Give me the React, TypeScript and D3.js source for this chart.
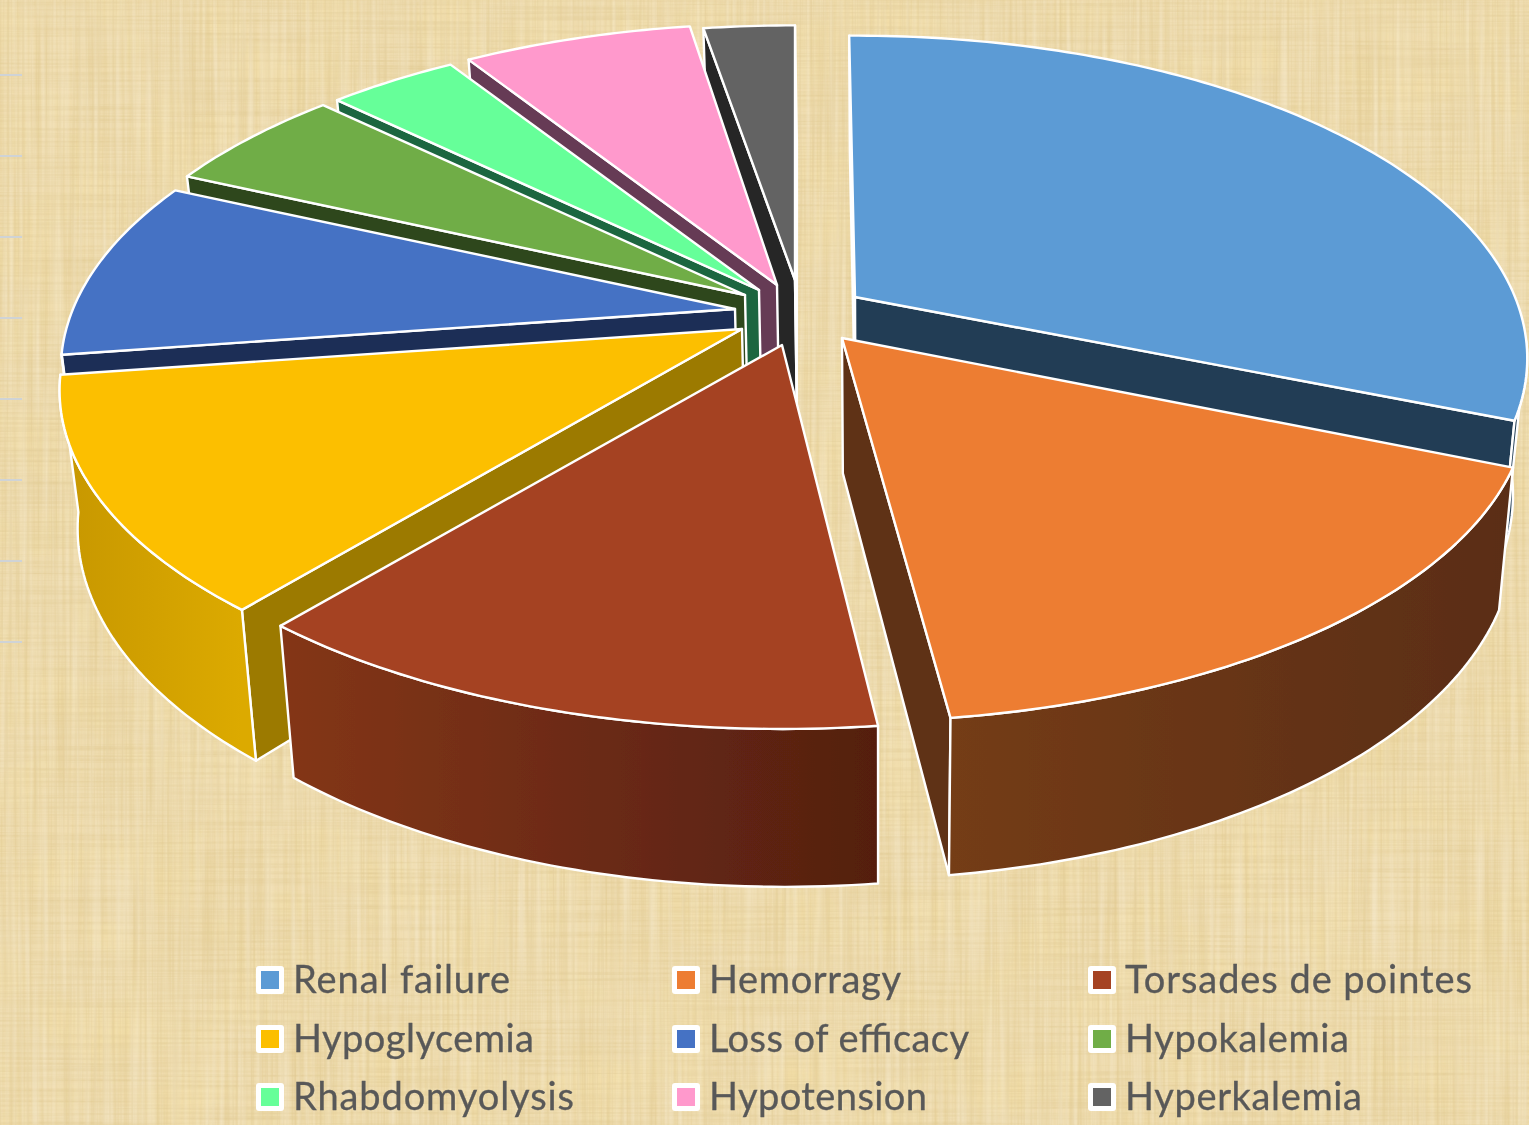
import React from "react";
import * as d3 from "d3";

const categories = ["Renal failure","Hemorragy","Torsades de pointes","Hypoglycemia","Loss of efficacy","Hypokalemia","Rhabdomyolysis","Hypotension","Hyperkalemia"];
const values = [31.28, 16.94, 12.94, 11.72, 9.03, 5.39, 3.75, 6.61, 2.34];
const topColors = ["#5b9bd5","#ed7d31","#a54324","#fcbf00","#4472c4","#70ad47","#66ff99","#ff99cc","#636363"];
const sideColors = ["#233e55","#5f3014","#6e2a16","#9c7a00","#1b2e57","#2d461c","#1f6640","#663a54","#262626"];
const wallFrom = ["#233e55","#743c16","#843618","#c79700","#1b2e57","#2d461c","#1f6640","#663a54","#262626"];
const wallTo = ["#233e55","#5a2d12","#541f10","#dcaa00","#1b2e57","#2d461c","#1f6640","#663a54","#262626"];
const explodeX = [60, 47, -13, -53, -60, -50, -36, -18, 0];
const explodeY = [-23, 18, 25, 9, -11, -25, -30, -35, -40];
const radiusX = [660, 674, 672, 670, 662, 660, 660, 660, 672];
const radiusY = [311, 311, 311, 311, 311, 311, 311, 311, 303];
const startNudgeDeg = [0, 0.7, 0.35, 0, 0, 0, 0, 0, -0.3];
const endNudgeDeg = [-0.3, -0.5, 0, 0, 0, 0, 0, 0, 0.6];
const labelWidths = [217, 192, 347, 241, 260, 224, 281, 218, 237];
const paintOrder = [8, 7, 6, 5, 4, 3, 0, 2, 1];
const legendRows = 3;
const legendCols = 3;

const W = 1529, H = 1125;
const CX = 795, CY = 320, K = 0.19;
const DEG = Math.PI / 180;
const WALL_MIN = 98 * DEG, WALL_MAX = 262 * DEG;
type P = [number, number];

const drop = ([x, y]: P): P => [880 + (x - 880) * 0.978, y + 133 + 0.058 * (y - 300)];
const line = d3.line<P>().x(d => d[0]).y(d => d[1]);
const closed = (pts: P[]) => line(pts) + "Z";

const slices = d3.pie<number>().sort(null).startAngle(-0.6 * DEG).endAngle(359.4 * DEG)(values);
const colX = d3.scaleOrdinal<number, number>().domain([0, 1, 2]).range([256, 672, 1088]);
const rowY = d3.scaleOrdinal<number, number>().domain([0, 1, 2]).range([966, 1025, 1083]);

export default function App() {
  const geo = slices.map((s, i) => {
    const ax = CX + explodeX[i];
    const ay = CY + explodeY[i];
    const apex: P = [ax, ay];
    const a0 = s.startAngle + startNudgeDeg[i] * DEG;
    const a1 = s.endAngle + endNudgeDeg[i] * DEG;
    const project = (a: number): P => {
      const u = Math.sin(a), v = -Math.cos(a), w = 1 - K * v;
      return [ax + (radiusX[i] * u) / w, ay + (radiusY[i] * v) / w];
    };
    const sample = (b0: number, b1: number): P[] => {
      const n = Math.max(4, Math.ceil((b1 - b0) * 60));
      return d3.range(n + 1).map(k => project(b0 + ((b1 - b0) * k) / n));
    };
    const arc = sample(a0, a1);
    const w0 = Math.max(a0, WALL_MIN), w1 = Math.min(a1, WALL_MAX);
    const wallArc = w0 < w1 ? sample(w0, w1) : [];
    const startVisible = -Math.sin(a0) > 0;
    const endVisible = Math.sin(a1) > 0;
    return { apex, arc, wallArc, i, startVisible, endVisible };
  });
  return (
    <svg width={W} height={H} viewBox={`0 0 ${W} ${H}`} style={{ position: "absolute", left: 0, top: 0, display: "block" }}>
      <defs>
        <filter id="fibV" x="0" y="0" width="100%" height="100%">
          <feTurbulence type="fractalNoise" baseFrequency="0.4 0.006" numOctaves={2} seed={4} />
          <feColorMatrix type="matrix" values="0 0 0 0 0.76  0 0 0 0 0.60  0 0 0 0 0.30  1.5 0 0 0 -0.55" />
          <feGaussianBlur stdDeviation="0.6" />
        </filter>
        <filter id="fibH" x="0" y="0" width="100%" height="100%">
          <feTurbulence type="fractalNoise" baseFrequency="0.006 0.4" numOctaves={2} seed={9} />
          <feColorMatrix type="matrix" values="0 0 0 0 0.76  0 0 0 0 0.60  0 0 0 0 0.30  1.5 0 0 0 -0.55" />
          <feGaussianBlur stdDeviation="0.6" />
        </filter>
        <filter id="lightV" x="0" y="0" width="100%" height="100%">
          <feTurbulence type="fractalNoise" baseFrequency="0.3 0.005" numOctaves={2} seed={31} />
          <feColorMatrix type="matrix" values="0 0 0 0 0.97  0 0 0 0 0.91  0 0 0 0 0.78  1.0 0 0 0 -0.40" />
          <feGaussianBlur stdDeviation="0.8" />
        </filter>
        <filter id="blotch" x="0" y="0" width="100%" height="100%">
          <feTurbulence type="fractalNoise" baseFrequency="0.014 0.018" numOctaves={2} seed={21} />
          <feColorMatrix type="matrix" values="0 0 0 0 0.88  0 0 0 0 0.72  0 0 0 0 0.38  2.2 0 0 0 -0.85" />
        </filter>
        <filter id="soft" x="-2%" y="-2%" width="104%" height="104%">
          <feGaussianBlur stdDeviation="0.45" />
        </filter>
        {geo.map(g => {
          const xs = g.wallArc.map(p => p[0]);
          return (
            <linearGradient key={g.i} id={`wall${g.i}`} gradientUnits="userSpaceOnUse" x1={d3.min(xs) ?? 0} x2={d3.max(xs) ?? 1} y1={0} y2={0}>
              <stop offset="0" stopColor={wallFrom[g.i]} />
              <stop offset="1" stopColor={wallTo[g.i]} />
            </linearGradient>
          );
        })}
      </defs>
      <rect width={W} height={H} fill="#eedbad" />
      <rect width={W} height={H} filter="url(#blotch)" />
      <rect width={W} height={H} filter="url(#fibV)" />
      <rect width={W} height={H} filter="url(#fibH)" />
      <rect width={W} height={H} filter="url(#lightV)" />
      {d3.range(8).map(i => (
        <line key={i} x1={0} x2={22} y1={75 + i * 81} y2={75 + i * 81} stroke="#cfd3d6" strokeWidth={2} />
      ))}
      <g filter="url(#soft)" stroke="#ffffff" strokeWidth={2.4} strokeLinejoin="round">
        {paintOrder.map(i => {
          const g = geo[i];
          const first = g.arc[0], last = g.arc[g.arc.length - 1];
          return (
            <g key={i}>
              {g.startVisible && <path d={closed([g.apex, first, drop(first), drop(g.apex)])} fill={sideColors[i]} />}
              {g.endVisible && <path d={closed([g.apex, last, drop(last), drop(g.apex)])} fill={sideColors[i]} />}
              {g.wallArc.length > 0 && (
                <path d={closed([...g.wallArc, ...g.wallArc.map(drop).reverse()])} fill={`url(#wall${i})`} />
              )}
              <path d={closed([g.apex, ...g.arc])} fill={topColors[i]} />
            </g>
          );
        })}
      </g>
      <g filter="url(#soft)">
        {categories.map((c, i) => {
          const col = i % legendCols, row = Math.floor(i / legendRows);
          const x = colX(col), y = rowY(row);
          return (
            <g key={c}>
              <rect x={x} y={y} width={28} height={28} rx={3} fill="#ffffff" />
              <rect x={x + 5} y={y + 5} width={18} height={18} fill={topColors[i]} />
              <text x={x + 37} y={y + 27} textLength={labelWidths[i]} lengthAdjust="spacing" fontFamily="Lato, 'Open Sans', sans-serif" fontSize={38} fill="#595959" stroke="#595959" strokeWidth={0.3}>{c}</text>
            </g>
          );
        })}
      </g>
    </svg>
  );
}
